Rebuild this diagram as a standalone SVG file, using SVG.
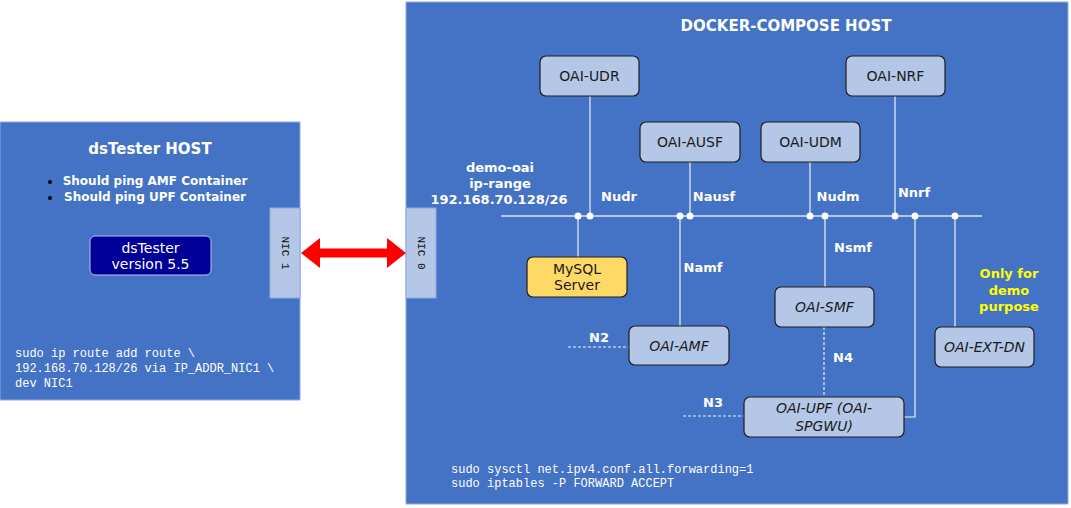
<svg xmlns="http://www.w3.org/2000/svg" width="1071" height="508" viewBox="0 0 1071 508">
<style>
.host{fill:#4472C4;stroke:#8FAADC;stroke-width:1}
.nic{fill:#B4C7E7;stroke:#8FAADC;stroke-width:1}
.nictxt{font-family:"Liberation Mono",monospace;font-size:11px;fill:#111}
.node{fill:#B4C7E7;stroke:#1F1F1F;stroke-width:1.2}
.db{fill:#FFD966;stroke:#1F1F1F;stroke-width:1.2}
.lbl{font-family:"DejaVu Sans","Liberation Sans",sans-serif;font-size:14px;fill:#1a1a1a;text-anchor:middle;dominant-baseline:central}
.it{font-style:italic}
.wb{font-family:"DejaVu Sans","Liberation Sans",sans-serif;font-weight:bold;fill:#fff;text-anchor:middle;dominant-baseline:central}
.yb{font-family:"DejaVu Sans","Liberation Sans",sans-serif;font-weight:bold;fill:#FFFF00;text-anchor:middle;dominant-baseline:central;font-size:13px}
.code{font-family:"Liberation Mono",monospace;font-size:12px;fill:#fff}
.bus{stroke:#DCE4F2;stroke-width:1.5;fill:none}
.ln{stroke:#EEF2FA;stroke-width:1.2;fill:none}
.dash{stroke:#EEF2FA;stroke-width:1.2;fill:none;stroke-dasharray:3 2}
.dot{fill:#fff}
</style>

<g id="dstester-host">
<rect class="host" x="0" y="122" width="300" height="278"/>
<text class="wb" x="150" y="149" font-size="15">dsTester HOST</text>
<circle cx="50" cy="182" r="2" fill="#000"/>
<circle cx="50" cy="198" r="2" fill="#000"/>
<text class="wb" x="155" y="181" font-size="12">Should ping AMF Container</text>
<text class="wb" x="155" y="197" font-size="12">Should ping UPF Container</text>
<text class="code" x="15" y="357">sudo ip route add route \</text>
<text class="code" x="15" y="372">192.168.70.128/26 via IP_ADDR_NIC1 \</text>
<text class="code" x="15" y="387">dev NIC1</text>
</g>

<g id="dstester">
<rect x="90" y="236" width="121" height="39" rx="5" fill="#000099" stroke="#B4C7E7" stroke-width="1"/>
<text class="lbl" x="150.5" y="248" style="fill:#fff">dsTester</text>
<text class="lbl" x="150.5" y="264" style="fill:#fff">version 5.5</text>
</g>

<g id="nic1">
<rect class="nic" x="270" y="208" width="30" height="90"/>
<text class="nictxt" transform="translate(285,253) rotate(90)" text-anchor="middle" dominant-baseline="central">NIC 1</text>
</g>

<g id="docker-host">
<rect class="host" x="406" y="2" width="662" height="502"/>
<text class="wb" x="786" y="26" font-size="15">DOCKER-COMPOSE HOST</text>
<text class="wb" x="500" y="167" font-size="13">demo-oai</text>
<text class="wb" x="500" y="183" font-size="13">ip-range</text>
<text class="wb" x="499" y="199" font-size="13">192.168.70.128/26</text>
<text class="code" x="451" y="473">sudo sysctl net.ipv4.conf.all.forwarding=1</text>
<text class="code" x="451" y="487">sudo iptables -P FORWARD ACCEPT</text>
<text class="yb" x="1009" y="273">Only for</text>
<text class="yb" x="1009" y="290">demo</text>
<text class="yb" x="1009" y="306">purpose</text>
</g>

<g id="nic0">
<rect class="nic" x="406" y="208" width="30" height="90"/>
<text class="nictxt" transform="translate(421,253) rotate(90)" text-anchor="middle" dominant-baseline="central">NIC 0</text>
</g>

<g id="connectors">
<polygon points="301,253 320,238 320,248.5 387,248.5 387,238 406,253 387,268 387,257.5 320,257.5 320,268" fill="#FF0000"/>
<line class="bus" x1="501" y1="216" x2="982" y2="216"/>
<line class="ln" x1="590" y1="96" x2="590" y2="216"/>
<line class="ln" x1="690" y1="162" x2="690" y2="216"/>
<line class="ln" x1="810" y1="162" x2="810" y2="216"/>
<line class="ln" x1="895" y1="96" x2="895" y2="216"/>
<line class="ln" x1="578" y1="216" x2="578" y2="257"/>
<line class="ln" x1="680" y1="216" x2="680" y2="326"/>
<line class="ln" x1="825" y1="216" x2="825" y2="287"/>
<polyline class="ln" points="915,216 915,417 904,417"/>
<line class="ln" x1="955" y1="216" x2="955" y2="327"/>
<line class="dash" x1="824" y1="327" x2="824" y2="397"/>
<line class="dash" x1="568" y1="347" x2="629" y2="347"/>
<line class="dash" x1="683" y1="416" x2="744" y2="416"/>
<circle class="dot" cx="578" cy="216" r="3.5"/>
<circle class="dot" cx="590" cy="216" r="3.5"/>
<circle class="dot" cx="680" cy="216" r="3.5"/>
<circle class="dot" cx="690" cy="216" r="3.5"/>
<circle class="dot" cx="810" cy="216" r="3.5"/>
<circle class="dot" cx="825" cy="216" r="3.5"/>
<circle class="dot" cx="895" cy="216" r="3.5"/>
<circle class="dot" cx="915" cy="216" r="3.5"/>
<circle class="dot" cx="955" cy="216" r="3.5"/>
<text class="wb" x="619" y="196" font-size="13">Nudr</text>
<text class="wb" x="714" y="196" font-size="13">Nausf</text>
<text class="wb" x="838" y="196" font-size="13">Nudm</text>
<text class="wb" x="914" y="192" font-size="13">Nnrf</text>
<text class="wb" x="853" y="247" font-size="13">Nsmf</text>
<text class="wb" x="703" y="267" font-size="13">Namf</text>
<text class="wb" x="599" y="337" font-size="13">N2</text>
<text class="wb" x="843" y="357" font-size="13">N4</text>
<text class="wb" x="713" y="402" font-size="13">N3</text>
</g>

<g id="oai-udr"><rect class="node" x="540" y="56" width="99" height="40" rx="6"/><text class="lbl" x="589.5" y="76">OAI-UDR</text></g>
<g id="oai-nrf"><rect class="node" x="846" y="56" width="99" height="40" rx="6"/><text class="lbl" x="895.5" y="76">OAI-NRF</text></g>
<g id="oai-ausf"><rect class="node" x="640" y="122" width="100" height="40" rx="6"/><text class="lbl" x="690" y="142">OAI-AUSF</text></g>
<g id="oai-udm"><rect class="node" x="761" y="122" width="99" height="40" rx="6"/><text class="lbl" x="810.5" y="142">OAI-UDM</text></g>
<g id="mysql"><rect class="db" x="527" y="257" width="100" height="40" rx="6"/><text class="lbl" x="577" y="269">MySQL</text><text class="lbl" x="577" y="285">Server</text></g>
<g id="oai-smf"><rect class="node" x="775" y="287" width="99" height="40" rx="6"/><text class="lbl it" x="824.5" y="307">OAI-SMF</text></g>
<g id="oai-amf"><rect class="node" x="629" y="326" width="100" height="39" rx="6"/><text class="lbl it" x="679" y="346">OAI-AMF</text></g>
<g id="oai-ext-dn"><rect class="node" x="935" y="327" width="99" height="40" rx="6"/><text class="lbl it" x="984.5" y="347">OAI-EXT-DN</text></g>
<g id="oai-upf"><rect class="node" x="744" y="397" width="160" height="40" rx="6"/><text class="lbl it" x="824" y="408">OAI-UPF (OAI-</text><text class="lbl it" x="824" y="426">SPGWU)</text></g>
</svg>
